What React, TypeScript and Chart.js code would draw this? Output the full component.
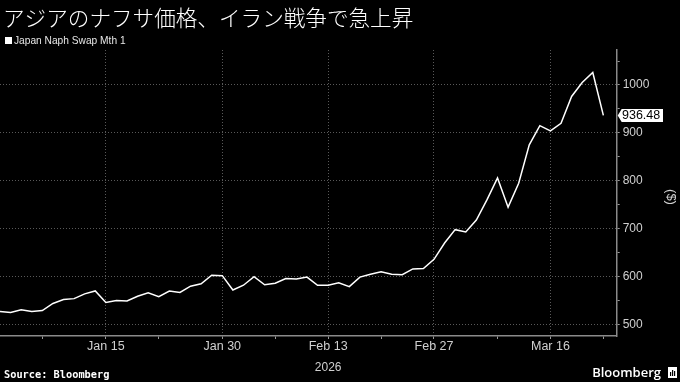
import React, { useEffect, useRef } from "react";
import { Chart, registerables } from "chart.js";

Chart.register(...registerables);

const titleText = "アジアのナフサ価格、イラン戦争で急上昇";
const legendText = "Japan Naph Swap Mth 1";
const sourceText = "Source: Bloomberg";
const yearLabel = "2026";
const yAxisTitle = "($)";

const dates = [
  "2026-01-01", "2026-01-02", "2026-01-05", "2026-01-06", "2026-01-07", "2026-01-08", "2026-01-09",
  "2026-01-12", "2026-01-13", "2026-01-14", "2026-01-15", "2026-01-16", "2026-01-19", "2026-01-20",
  "2026-01-21", "2026-01-22", "2026-01-23", "2026-01-26", "2026-01-27", "2026-01-28", "2026-01-29",
  "2026-01-30", "2026-02-02", "2026-02-03", "2026-02-04", "2026-02-05", "2026-02-06", "2026-02-09",
  "2026-02-10", "2026-02-11", "2026-02-12", "2026-02-13", "2026-02-16", "2026-02-17", "2026-02-18",
  "2026-02-19", "2026-02-20", "2026-02-23", "2026-02-24", "2026-02-25", "2026-02-26", "2026-02-27",
  "2026-03-02", "2026-03-03", "2026-03-04", "2026-03-05", "2026-03-06", "2026-03-09", "2026-03-10",
  "2026-03-11", "2026-03-12", "2026-03-13", "2026-03-16", "2026-03-17", "2026-03-18", "2026-03-19",
  "2026-03-20", "2026-03-23",
];

const naphtha = [
  527, 525, 531, 527, 529, 544, 552, 554, 564, 570,
  546, 550, 549, 559, 566, 558, 570, 567, 580, 585,
  603, 602, 572, 582, 600, 583, 586, 596, 595, 599,
  582, 582, 587, 579, 599, 605, 610, 605, 604, 616,
  617, 636, 670, 698, 693, 718, 760, 806, 745, 795,
  875, 915, 904, 920, 976, 1005, 1026, 936.48,
];

const majorTickDates = ["2026-01-15", "2026-01-30", "2026-02-13", "2026-02-27", "2026-03-16"];
const majorTickLabels = ["Jan 15", "Jan 30", "Feb 13", "Feb 27", "Mar 16"];
const minorTickDates = ["2026-01-07", "2026-01-22", "2026-02-06", "2026-02-20", "2026-03-09", "2026-03-23"];
const yTickValues = [500, 550, 600, 650, 700, 750, 800, 850, 900, 950, 1000, 1050];
const yLabelValues = [500, 600, 700, 800, 900, 1000];
const yearLabelDate = "2026-02-13";

export default function App() {
  const ref = useRef<HTMLCanvasElement | null>(null);

  useEffect(() => {
    document.body.style.margin = "0";
    document.body.style.background = "#000";
    const canvas = ref.current;
    if (!canvas) return;

    const majorIdx = majorTickDates.map((d) => dates.indexOf(d));
    const minorIdx = minorTickDates.map((d) => dates.indexOf(d));
    const allTicks = [...majorIdx, ...minorIdx].sort((a, b) => a - b);
    const lastIdx = dates.length - 1;
    const lastVal = naphtha[lastIdx];

    const textPlugin = {
      id: "texts",
      beforeDraw(chart: any) {
        const c = chart.ctx;
        c.save();
        c.fillStyle = "#000";
        c.fillRect(0, 0, chart.width, chart.height);
        c.restore();
      },
      afterDraw(chart: any) {
        const c = chart.ctx;
        const xs = chart.scales.x;
        const ys = chart.scales.y;
        c.save();
        // Title
        c.fillStyle = "#ffffff";
        c.textBaseline = "middle";
        c.textAlign = "left";
        c.font = '300 21.6px "Noto Sans CJK JP", sans-serif';
        c.fillText(titleText, 3, 18);
        // Legend
        c.fillRect(5, 37, 7, 7);
        c.font = '10.2px "Liberation Sans", Arial, sans-serif';
        c.fillStyle = "#e6e6e6";
        c.fillText(legendText, 14, 41);
        // Year label
        c.textAlign = "center";
        c.font = '12px "Liberation Sans", Arial, sans-serif';
        c.fillStyle = "#d0d0d0";
        c.fillText(yearLabel, xs.getPixelForValue(dates.indexOf(yearLabelDate)), 368);
        // Y axis title
        c.save();
        c.translate(671, 197);
        c.rotate(Math.PI / 2);
        c.font = '13px "Liberation Sans", Arial, sans-serif';
        c.fillStyle = "#d0d0d0";
        c.textAlign = "center";
        c.fillText(yAxisTitle, 0, 0);
        c.restore();
        // Last value label
        const ly = ys.getPixelForValue(lastVal);
        const bx = chart.chartArea.right + 1;
        c.fillStyle = "#ffffff";
        c.beginPath();
        c.moveTo(bx, ly);
        c.lineTo(bx + 4, ly - 6.5);
        c.lineTo(663, ly - 6.5);
        c.lineTo(663, ly + 6.5);
        c.lineTo(bx + 4, ly + 6.5);
        c.closePath();
        c.fill();
        c.fillStyle = "#000000";
        c.textAlign = "left";
        c.font = '12.5px "Liberation Sans", Arial, sans-serif';
        c.fillText(lastVal.toFixed(2), 622, ly + 0.5);
        // Footer
        c.fillStyle = "#ffffff";
        c.font = 'bold 10.3px "DejaVu Sans Mono", monospace';
        c.fillText(sourceText, 4, 375);
        c.font = '600 13px "Open Sans", "Liberation Sans", sans-serif';
        c.textAlign = "right";
        c.fillText("Bloomberg", 661, 373);
        // logo icon
        c.fillStyle = "#ffffff";
        c.fillRect(668, 367, 9, 11);
        c.fillStyle = "#000";
        c.fillRect(670, 372, 1.2, 4);
        c.fillRect(672, 370, 1.2, 6);
        c.fillRect(674, 371, 1.2, 5);
        c.restore();
      },
    };

    const chart = new Chart(canvas, {
      type: "line",
      data: {
        datasets: [
          {
            label: legendText,
            data: naphtha.map((v, i) => ({ x: i, y: v })),
            borderColor: "#ffffff",
            borderWidth: 1.5,
            pointRadius: 0,
            tension: 0,
          },
        ],
      },
      options: {
        responsive: false,
        animation: false,
        layout: { padding: { top: 50, left: 0, right: 0, bottom: 0 } },
        plugins: {
          legend: { display: false },
          title: { display: false },
          tooltip: { enabled: false },
        },
        scales: {
          x: {
            type: "linear",
            min: 0,
            max: 58.26,
            afterFit: (s: any) => {
              s.height = 46;
            },
            afterBuildTicks: (s: any) => {
              s.ticks = allTicks.map((v) => ({ value: v }));
            },
            ticks: {
              autoSkip: false,
              maxRotation: 0,
              padding: 0,
              color: "#d0d0d0",
              font: { family: '"Liberation Sans", Arial, sans-serif', size: 12.5 },
              callback: (v: any) => {
                const k = majorIdx.indexOf(Number(v));
                return k >= 0 ? majorTickLabels[k] : "";
              },
            },
            grid: {
              color: (ctx: any) =>
                ctx.tick && majorIdx.includes(ctx.tick.value) ? "rgba(255,255,255,0.35)" : "rgba(0,0,0,0)",
              tickColor: "#999",
              tickLength: 3,
              tickBorderDash: [],
              lineWidth: 1,
            },
            border: { display: true, color: "#8a8a8a", width: 1.5, dash: [1, 2] },
          },
          y: {
            type: "linear",
            position: "right",
            min: 476,
            max: 1073,
            afterFit: (s: any) => {
              s.width = 63.3;
            },
            afterBuildTicks: (s: any) => {
              s.ticks = yTickValues.map((v) => ({ value: v }));
            },
            ticks: {
              padding: 3,
              color: "#d0d0d0",
              font: { family: '"Liberation Sans", Arial, sans-serif', size: 12 },
              callback: (v: any) => (yLabelValues.includes(Number(v)) ? String(v) : ""),
            },
            grid: {
              color: (ctx: any) =>
                ctx.tick && yLabelValues.includes(ctx.tick.value) ? "rgba(255,255,255,0.35)" : "rgba(0,0,0,0)",
              tickColor: "#999",
              tickLength: 3,
              tickBorderDash: [],
              lineWidth: 1,
            },
            border: { display: true, color: "#8a8a8a", width: 1.5, dash: [1, 2] },
          },
        },
      },
      plugins: [textPlugin],
    } as any);

    return () => chart.destroy();
  }, []);

  return <canvas ref={ref} width={680} height={382} style={{ display: "block" }} />;
}
